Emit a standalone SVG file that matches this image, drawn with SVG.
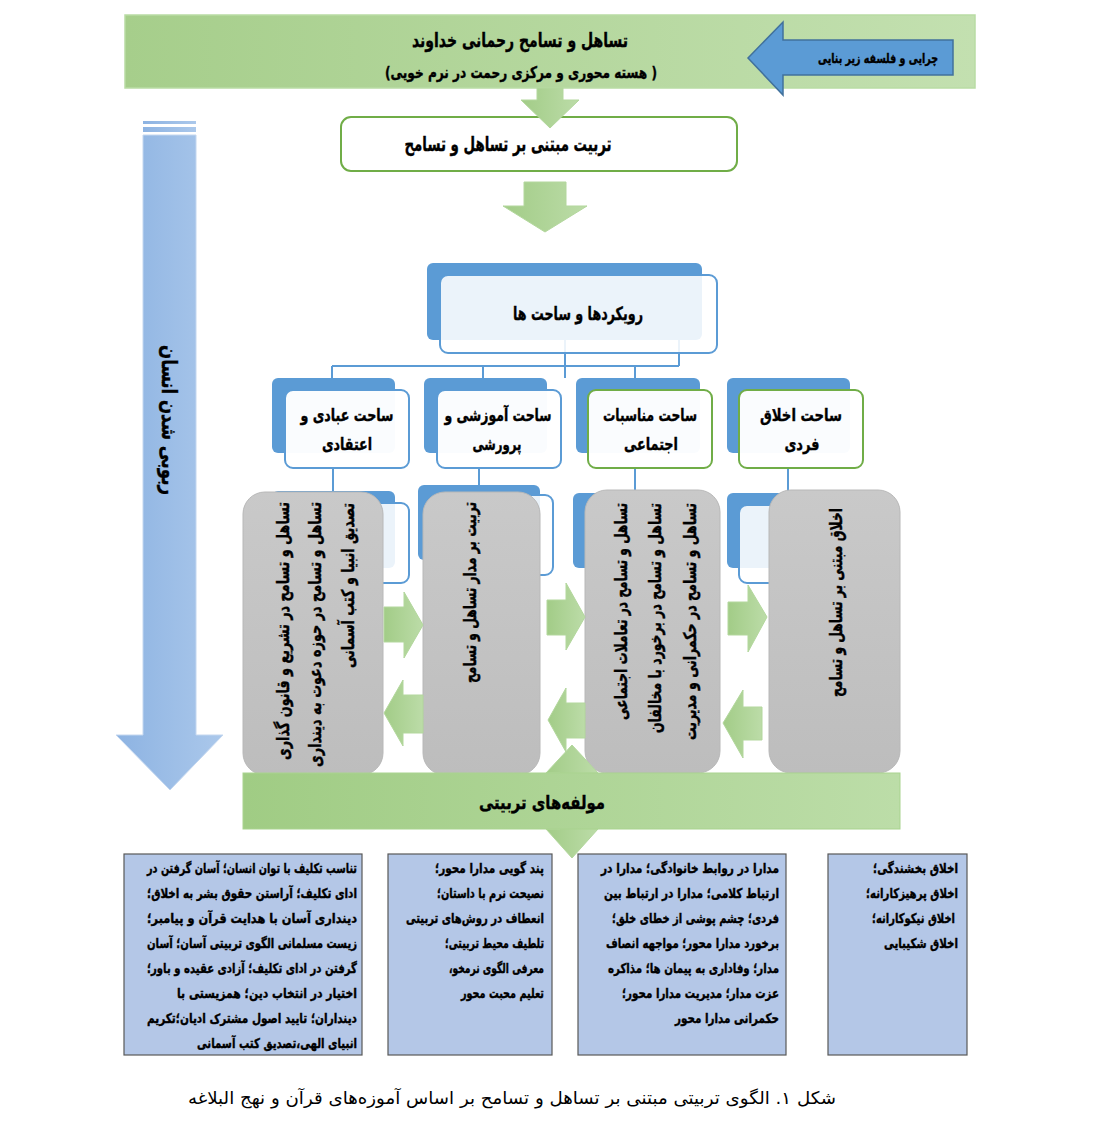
<svg xmlns="http://www.w3.org/2000/svg" width="1095" height="1128" viewBox="0 0 1095 1128">
<defs>
<linearGradient id="gBanner" x1="0" y1="0" x2="1" y2="0"><stop offset="0" stop-color="#a6ce8b"/><stop offset="1" stop-color="#c3e0b0"/></linearGradient>
<linearGradient id="gBand" x1="0" y1="0" x2="1" y2="0"><stop offset="0" stop-color="#a0cc84"/><stop offset="1" stop-color="#bcdda8"/></linearGradient>
<linearGradient id="gArrow" x1="0" y1="0" x2="1" y2="0"><stop offset="0" stop-color="#a2cc87"/><stop offset="1" stop-color="#bcdca8"/></linearGradient>
<linearGradient id="gBlue" x1="0" y1="0" x2="1" y2="0"><stop offset="0" stop-color="#8db3e2"/><stop offset="1" stop-color="#abc8eb"/></linearGradient>
<linearGradient id="gGray" x1="0" y1="0" x2="0" y2="1"><stop offset="0" stop-color="#c9c9c9"/><stop offset="1" stop-color="#bdbdbd"/></linearGradient>
</defs>
<style>
.t{font-family:"DejaVu Sans",sans-serif;font-weight:bold;fill:#000;direction:rtl;stroke:#000;stroke-width:.4px}
.n{font-weight:normal;stroke:none}
.s{font-size:13.5px}
.m{font-size:17px}
.r{font-size:17.5px}
.back{fill:#5b9bd5}
.fb{fill:#fff;fill-opacity:.88;stroke:#5b9bd5;stroke-width:2}
.fc{fill:#fff;fill-opacity:.97;stroke:#5b9bd5;stroke-width:2}
.fg{fill:#fff;fill-opacity:.97;stroke:#70ad47;stroke-width:2}
.gray{fill:url(#gGray);stroke:#b8b8b8;stroke-width:1}
.ga{fill:url(#gArrow);stroke:#b3d79d;stroke-width:1}
.bb{fill:#b4c7e7;stroke:#595959;stroke-width:1.2}
.conn{stroke:#5b9bd5;stroke-width:2;fill:none}
</style>

<g id="banner">
<rect x="125" y="15" width="850" height="73" fill="url(#gBanner)" stroke="#b9dca4" stroke-width="1.5"/>
<text class="t" x="520" y="47" font-size="19.5" text-anchor="middle" textLength="216" lengthAdjust="spacingAndGlyphs">تساهل و تسامح رحمانی خداوند</text>
<text class="t" x="521" y="78" font-size="16" text-anchor="middle" textLength="272" lengthAdjust="spacingAndGlyphs">( هسته محوری و مرکزی رحمت در نرم خویی)</text>
</g>

<g id="philosophy">
<polygon points="953,40 953,75 783,75 783,95 748,58 783,22 783,40" fill="#5b9bd5" stroke="#41719c" stroke-width="1.5"/>
<text class="t" x="878" y="63" font-size="13.5" text-anchor="middle" textLength="120" lengthAdjust="spacingAndGlyphs">چرایی و فلسفه زیر بنایی</text>
</g>

<g id="training">
<rect x="341" y="117" width="396" height="54" rx="10" fill="#fff" stroke="#70ad47" stroke-width="2"/>
<text class="t" x="508" y="151" font-size="20" text-anchor="middle" textLength="207" lengthAdjust="spacingAndGlyphs">تربیت مبتنی بر تساهل و تسامح</text>
</g>

<g id="flow-arrows">
<polygon points="537,88 563,88 563,100 579,100 550,128 521,100 537,100" fill="url(#gArrow)" stroke="#b3d79d"/>
<polygon points="524,182 566,182 566,206 587,206 545,232 503,206 524,206" fill="url(#gArrow)" stroke="#b3d79d"/>
</g>

<g id="rububi-arrow">
<rect x="143" y="121" width="53" height="3" fill="url(#gBlue)"/>
<rect x="143" y="127" width="53" height="5" fill="url(#gBlue)"/>
<polygon points="143,135 196,135 196,735 223,735 170,790 116,735 143,735" fill="url(#gBlue)" stroke="#c4d7ef" stroke-width="1"/>
<text class="t" font-size="21" transform="translate(162,495) rotate(90)" text-anchor="start" textLength="150" lengthAdjust="spacingAndGlyphs">ربوبی شدن انسان</text>
</g>

<g id="connectors">
<path class="conn" d="M565,340 V378 M679,340 V366 M332,366 H679 M332,366 V378 M483,366 V378 M635,366 V378"/>
<path class="conn" d="M333,468 V492 M479,468 V486 M635,468 V494 M788,468 V494"/>
</g>

<g id="node-approaches">
<rect class="back" x="427" y="263" width="275" height="77" rx="6"/>
<rect class="fb" x="440" y="275" width="277" height="78" rx="8"/>
<text class="t" x="578" y="320" font-size="18.5" text-anchor="middle" textLength="130" lengthAdjust="spacingAndGlyphs">رویکردها و ساحت ها</text>
</g>

<g id="node-worship">
<rect class="back" x="272" y="378" width="123" height="75" rx="6"/>
<rect class="fc" x="285" y="390" width="124" height="78" rx="8"/>
<text class="t m" x="347" y="421" text-anchor="middle" textLength="93" lengthAdjust="spacingAndGlyphs">ساحت عبادی و</text>
<text class="t m" x="347" y="450" text-anchor="middle" textLength="50" lengthAdjust="spacingAndGlyphs">اعتقادی</text>
</g>
<g id="node-education">
<rect class="back" x="424" y="378" width="123" height="75" rx="6"/>
<rect class="fc" x="437" y="390" width="124" height="78" rx="8"/>
<text class="t m" x="498" y="421" text-anchor="middle" textLength="107" lengthAdjust="spacingAndGlyphs">ساحت آموزشی و</text>
<text class="t m" x="497" y="450" text-anchor="middle" textLength="49" lengthAdjust="spacingAndGlyphs">پرورشی</text>
</g>
<g id="node-social">
<rect class="back" x="576" y="378" width="124" height="75" rx="6"/>
<rect class="fg" x="588" y="390" width="124" height="78" rx="8"/>
<text class="t m" x="650" y="421" text-anchor="middle" textLength="94" lengthAdjust="spacingAndGlyphs">ساحت مناسبات</text>
<text class="t m" x="651" y="450" text-anchor="middle" textLength="54" lengthAdjust="spacingAndGlyphs">اجتماعی</text>
</g>
<g id="node-ethics">
<rect class="back" x="727" y="378" width="123" height="75" rx="6"/>
<rect class="fg" x="739" y="390" width="124" height="78" rx="8"/>
<text class="t m" x="801" y="421" text-anchor="middle" textLength="82" lengthAdjust="spacingAndGlyphs">ساحت اخلاق</text>
<text class="t m" x="802" y="450" text-anchor="middle" textLength="35" lengthAdjust="spacingAndGlyphs">فردی</text>
</g>

<g id="hidden-boxes">
<rect class="back" x="272" y="491" width="123" height="77" rx="6"/>
<rect class="fb" x="285" y="503" width="124" height="80" rx="8"/>
<rect class="back" x="418" y="485" width="122" height="75" rx="6"/>
<rect class="fb" x="431" y="495" width="122" height="80" rx="8"/>
<rect class="back" x="573" y="493" width="124" height="75" rx="6"/>
<rect class="fb" x="586" y="505" width="124" height="78" rx="8"/>
<rect class="back" x="727" y="493" width="123" height="75" rx="6"/>
<rect class="fb" x="739" y="505" width="124" height="78" rx="8"/>
</g>

<g id="g-worship">
<rect class="gray" x="243" y="492" width="140" height="283" rx="22"/>
<text class="t r" transform="translate(289,502) rotate(-90)" text-anchor="start" textLength="258" lengthAdjust="spacingAndGlyphs">تساهل و تسامح در تشریع و قانون گذاری</text>
<text class="t r" transform="translate(321,502) rotate(-90)" text-anchor="start" textLength="265" lengthAdjust="spacingAndGlyphs">تساهل و تسامح در حوزه دعوت به دینداری</text>
<text class="t r" transform="translate(354,503) rotate(-90)" text-anchor="start" textLength="165" lengthAdjust="spacingAndGlyphs">تصدیق انبیا و کتب آسمانی</text>
</g>
<g id="g-education">
<rect class="gray" x="423" y="492" width="117" height="283" rx="22"/>
<text class="t r" transform="translate(476,502) rotate(-90)" text-anchor="start" textLength="181" lengthAdjust="spacingAndGlyphs">تربیت بر مدار تساهل و تسامح</text>
</g>
<g id="g-social">
<rect class="gray" x="585" y="490" width="135" height="283" rx="22"/>
<text class="t r" transform="translate(627,503) rotate(-90)" text-anchor="start" textLength="217" lengthAdjust="spacingAndGlyphs">تساهل و تسامح در تعاملات اجتماعی</text>
<text class="t r" transform="translate(661,503) rotate(-90)" text-anchor="start" textLength="230" lengthAdjust="spacingAndGlyphs">تساهل و تسامح در برخورد با مخالفان</text>
<text class="t r" transform="translate(696,503) rotate(-90)" text-anchor="start" textLength="237" lengthAdjust="spacingAndGlyphs">تساهل و تسامح در حکمرانی و مدیریت</text>
</g>
<g id="g-ethics">
<rect class="gray" x="769" y="490" width="131" height="283" rx="22"/>
<text class="t r" transform="translate(842,508) rotate(-90)" text-anchor="start" textLength="189" lengthAdjust="spacingAndGlyphs">اخلاق مبتنی بر تساهل و تسامح</text>
</g>

<g id="side-arrows">
<polygon class="ga" points="384,607 404,607 404,592 423,625 404,658 404,642 384,642"/>
<polygon class="ga" points="423,695 403,695 403,680 384,713 403,746 403,733 423,733"/>
<polygon class="ga" points="547,600 566,600 566,583 585,617 566,650 566,635 547,635"/>
<polygon class="ga" points="585,703 566,703 566,688 548,720 566,752 566,738 585,738"/>
<polygon class="ga" points="728,602 748,602 748,585 767,617 748,652 748,635 728,635"/>
<polygon class="ga" points="762,707 743,707 743,690 723,723 743,758 743,740 762,740"/>
</g>

<g id="updown-arrow">
<polygon class="ga" points="572,745 598,773 584,773 584,829 598,829 572,858 546,829 560,829 560,773 546,773"/>
</g>

<g id="components-band">
<rect x="243" y="773" width="657" height="56" fill="url(#gBand)" stroke="#a9d38f" stroke-width="1"/>
<text class="t" x="542" y="809" font-size="18.5" text-anchor="middle" textLength="126" lengthAdjust="spacingAndGlyphs">مولفه‌های تربیتی</text>
</g>

<g id="list-worship">
<rect class="bb" x="124" y="854" width="238" height="201"/>
<text class="t s" x="357" y="873" textLength="210" lengthAdjust="spacingAndGlyphs">تناسب تکلیف با توان انسان؛ آسان گرفتن در</text>
<text class="t s" x="357" y="898" textLength="210" lengthAdjust="spacingAndGlyphs">ادای تکلیف؛ آراستن حقوق بشر به اخلاق؛</text>
<text class="t s" x="357" y="923" textLength="210" lengthAdjust="spacingAndGlyphs">دینداری آسان با هدایت قرآن و پیامبر؛</text>
<text class="t s" x="357" y="948" textLength="210" lengthAdjust="spacingAndGlyphs">زیست مسلمانی الگوی تربیتی آسان؛ آسان</text>
<text class="t s" x="357" y="973" textLength="210" lengthAdjust="spacingAndGlyphs">گرفتن در ادای تکلیف؛ آزادی عقیده و باور؛</text>
<text class="t s" x="357" y="998" textLength="180" lengthAdjust="spacingAndGlyphs">اختیار در انتخاب دین؛ همزیستی با</text>
<text class="t s" x="357" y="1023" textLength="210" lengthAdjust="spacingAndGlyphs">دینداران؛ تایید اصول مشترک ادیان؛تکریم</text>
<text class="t s" x="357" y="1048" textLength="160" lengthAdjust="spacingAndGlyphs">انبیای الهی،تصدیق کتب آسمانی</text>
</g>
<g id="list-education">
<rect class="bb" x="388" y="854" width="164" height="201"/>
<text class="t s" x="544" y="873" textLength="109" lengthAdjust="spacingAndGlyphs">پند گویی مدارا محور؛</text>
<text class="t s" x="544" y="898" textLength="107" lengthAdjust="spacingAndGlyphs">نصیحت نرم با داستان؛</text>
<text class="t s" x="544" y="923" textLength="138" lengthAdjust="spacingAndGlyphs">انعطاف در روش‌های تربیتی</text>
<text class="t s" x="544" y="948" textLength="99" lengthAdjust="spacingAndGlyphs">تلطیف محیط تربیتی؛</text>
<text class="t s" x="544" y="973" textLength="95" lengthAdjust="spacingAndGlyphs">معرفی الگوی نرمخو،</text>
<text class="t s" x="544" y="998" textLength="83" lengthAdjust="spacingAndGlyphs">تعلیم محبت محور</text>
</g>
<g id="list-social">
<rect class="bb" x="578" y="854" width="208" height="201"/>
<text class="t s" x="779" y="873" textLength="178" lengthAdjust="spacingAndGlyphs">مدارا در روابط خانوادگی؛ مدارا در</text>
<text class="t s" x="779" y="898" textLength="175" lengthAdjust="spacingAndGlyphs">ارتباط کلامی؛ مدارا در ارتباط بین</text>
<text class="t s" x="779" y="923" textLength="167" lengthAdjust="spacingAndGlyphs">فردی؛ چشم پوشی از خطای خلق؛</text>
<text class="t s" x="779" y="948" textLength="173" lengthAdjust="spacingAndGlyphs">برخورد مدارا محور؛ مواجهه انصاف</text>
<text class="t s" x="779" y="973" textLength="171" lengthAdjust="spacingAndGlyphs">مدار؛ وفاداری به پیمان ها؛ مذاکره</text>
<text class="t s" x="779" y="998" textLength="157" lengthAdjust="spacingAndGlyphs">عزت مدار؛ مدیریت مدارا محور؛</text>
<text class="t s" x="779" y="1023" textLength="104" lengthAdjust="spacingAndGlyphs">حکمرانی مدارا محور</text>
</g>
<g id="list-ethics">
<rect class="bb" x="828" y="854" width="139" height="201"/>
<text class="t s" x="958" y="873" textLength="85" lengthAdjust="spacingAndGlyphs">اخلاق بخشندگی؛</text>
<text class="t s" x="958" y="898" textLength="92" lengthAdjust="spacingAndGlyphs">اخلاق پرهیزکارانه؛</text>
<text class="t s" x="955" y="923" textLength="83" lengthAdjust="spacingAndGlyphs">اخلاق نیکوکارانه؛</text>
<text class="t s" x="958" y="948" textLength="74" lengthAdjust="spacingAndGlyphs">اخلاق شکیبایی</text>
</g>

<g id="caption">
<text class="t n" x="512" y="1104" font-size="17.5" text-anchor="middle" textLength="648" lengthAdjust="spacingAndGlyphs">شکل ۱. الگوی تربیتی مبتنی بر تساهل و تسامح بر اساس آموزه‌های قرآن و نهج البلاغه</text>
</g>
</svg>
